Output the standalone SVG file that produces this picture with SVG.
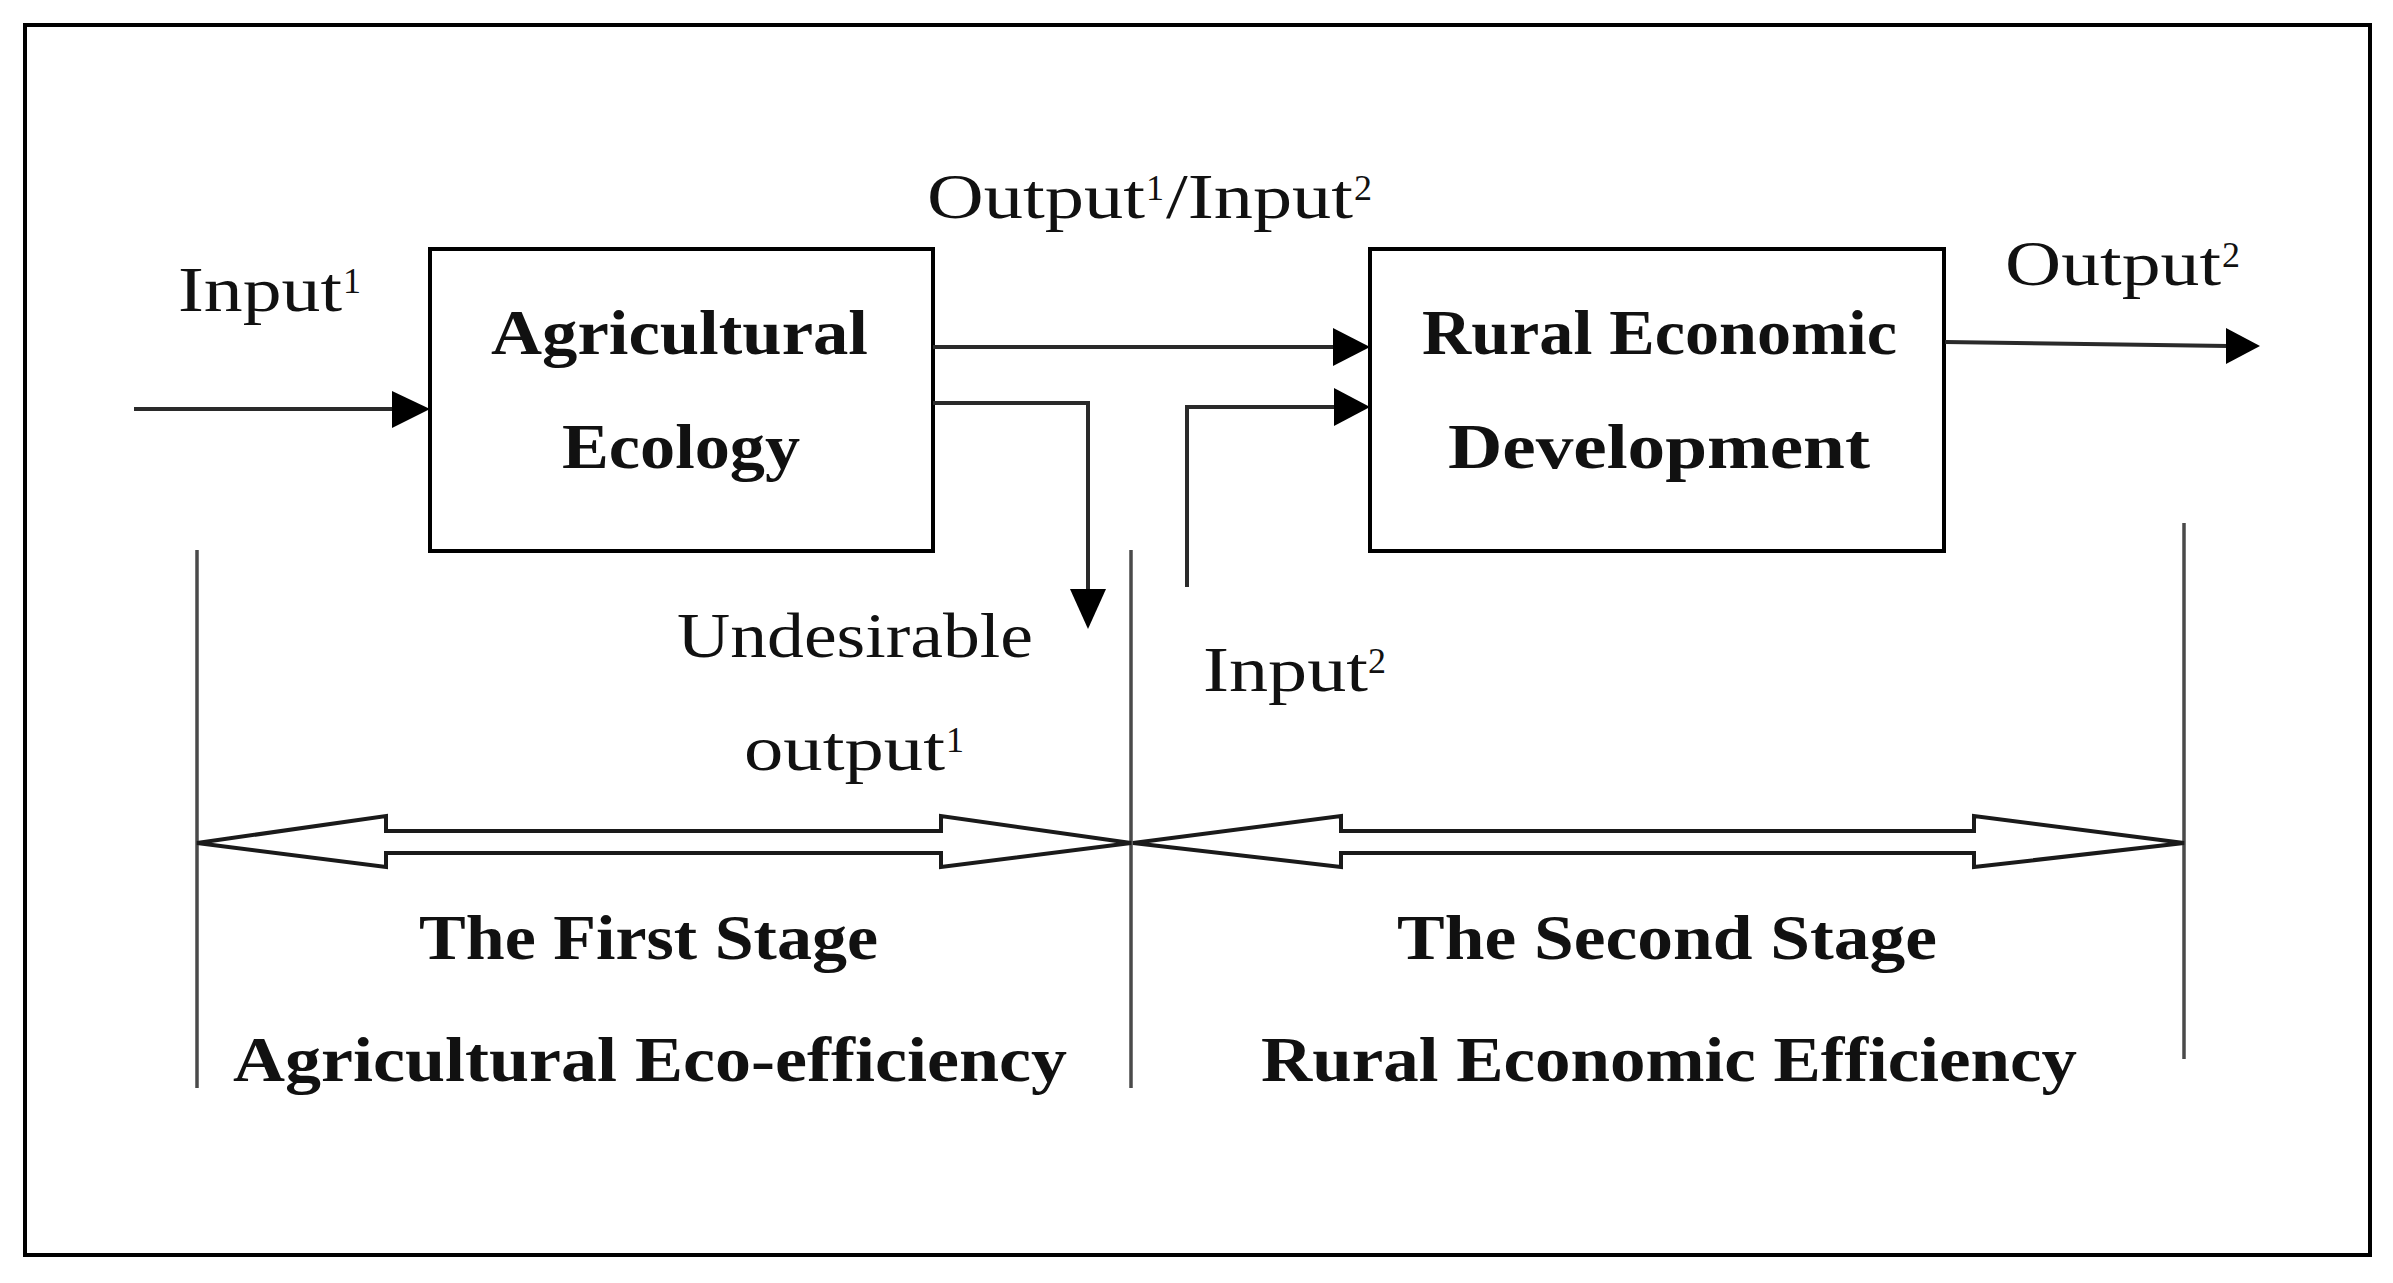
<svg xmlns="http://www.w3.org/2000/svg" width="2393" height="1283" viewBox="0 0 2393 1283">
<style>
.t{font-family:"Liberation Serif","Times New Roman",serif;font-size:64px;fill:#111}
.b{font-weight:bold}
.sup{font-size:36px}
.box{fill:#fff;stroke:#000;stroke-width:4}
.ln{fill:none;stroke:#2a2a2a;stroke-width:4}
.hd{fill:#000;stroke:none}
.sl{stroke:#4a4a4a;stroke-width:3.5;fill:none}
.da{fill:#fff;stroke:#1a1a1a;stroke-width:4;stroke-linejoin:miter}
</style>
<rect width="2393" height="1283" fill="#fff"/>
<rect id="frame" x="25" y="25" width="2345" height="1230" fill="none" stroke="#000" stroke-width="4"/>

<g id="node-agricultural-ecology">
<rect class="box" x="430" y="249" width="503" height="302"/>
<text class="t b" x="491" y="354" textLength="377" lengthAdjust="spacingAndGlyphs">Agricultural</text>
<text class="t b" x="562" y="468" textLength="238" lengthAdjust="spacingAndGlyphs">Ecology</text>
</g>

<g id="node-rural-economic-development">
<rect class="box" x="1370" y="249" width="574" height="302"/>
<text class="t b" x="1422" y="354" textLength="475" lengthAdjust="spacingAndGlyphs">Rural Economic</text>
<text class="t b" x="1448" y="468" textLength="422" lengthAdjust="spacingAndGlyphs">Development</text>
</g>

<g id="connectors">
<line class="ln" x1="134" y1="409" x2="394" y2="409"/>
<polygon class="hd" points="392,391 430,409 392,428"/>
<line class="ln" x1="933" y1="347" x2="1336" y2="347"/>
<polygon class="hd" points="1333,328 1370,347 1333,366"/>
<polyline class="ln" points="933,403 1088,403 1088,592"/>
<polygon class="hd" points="1070,589 1088,629 1106,589"/>
<polyline class="ln" points="1187,587 1187,407 1336,407"/>
<polygon class="hd" points="1334,388 1370,407 1334,426"/>
<line class="ln" x1="1945" y1="342" x2="2228" y2="346"/>
<polygon class="hd" points="2226,328 2260,346 2226,364"/>
</g>

<g id="labels">
<text class="t" x="178" y="311"><tspan textLength="164" lengthAdjust="spacingAndGlyphs">Input</tspan><tspan class="sup" x="343" dy="-18">1</tspan></text>
<text class="t" x="927" y="218"><tspan textLength="218" lengthAdjust="spacingAndGlyphs">Output</tspan><tspan class="sup" x="1146" dy="-18">1</tspan><tspan x="1166" dy="18" textLength="187" lengthAdjust="spacingAndGlyphs">/Input</tspan><tspan class="sup" x="1354" dy="-18">2</tspan></text>
<text class="t" x="2005" y="285"><tspan textLength="216" lengthAdjust="spacingAndGlyphs">Output</tspan><tspan class="sup" x="2222" dy="-18">2</tspan></text>
<text class="t" x="677" y="657" textLength="356" lengthAdjust="spacingAndGlyphs">Undesirable</text>
<text class="t" x="744" y="770"><tspan textLength="201" lengthAdjust="spacingAndGlyphs">output</tspan><tspan class="sup" x="946" dy="-18">1</tspan></text>
<text class="t" x="1203" y="691"><tspan textLength="165" lengthAdjust="spacingAndGlyphs">Input</tspan><tspan class="sup" x="1368" dy="-18">2</tspan></text>
</g>

<g id="stage-lines">
<line class="sl" x1="197" y1="550" x2="197" y2="1088"/>
<line class="sl" x1="1131" y1="550" x2="1131" y2="1088"/>
<line class="sl" x1="2184" y1="523" x2="2184" y2="1059"/>
</g>

<g id="stage-1">
<polygon class="da" points="197,843 386,816 386,831 941,831 941,816 1131,843 941,867 941,853 386,853 386,867"/>
<text class="t b" x="419" y="959" textLength="459" lengthAdjust="spacingAndGlyphs">The First Stage</text>
<text class="t b" x="233" y="1081" textLength="834" lengthAdjust="spacingAndGlyphs">Agricultural Eco-efficiency</text>
</g>

<g id="stage-2">
<polygon class="da" points="1133,843 1341,816 1341,831 1974,831 1974,816 2184,843 1974,867 1974,853 1341,853 1341,867"/>
<text class="t b" x="1397" y="959" textLength="540" lengthAdjust="spacingAndGlyphs">The Second Stage</text>
<text class="t b" x="1261" y="1081" textLength="816" lengthAdjust="spacingAndGlyphs">Rural Economic Efficiency</text>
</g>
</svg>
